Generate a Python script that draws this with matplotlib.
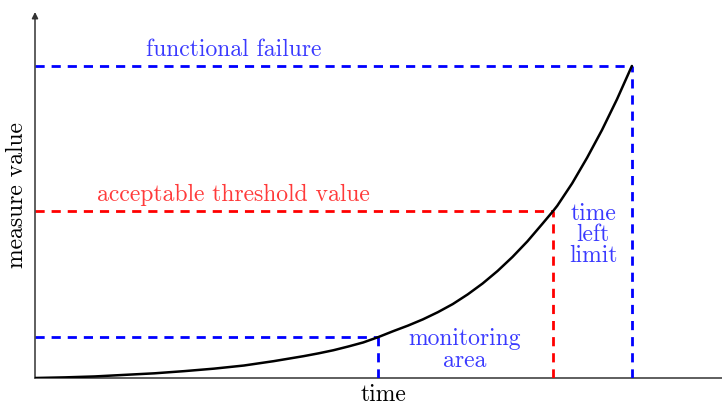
import matplotlib
matplotlib.use('Agg')
from matplotlib import pyplot as plt

# curve (time, measure value), failure point = (1, 1)
time = [0.0, 0.05, 0.10, 0.15, 0.20, 0.25, 0.30, 0.35, 0.40, 0.45, 0.475, 0.50,
        0.525, 0.55, 0.575, 0.60, 0.625, 0.65, 0.675, 0.70, 0.725, 0.75, 0.775,
        0.80, 0.825, 0.85, 0.868, 0.875, 0.90, 0.925, 0.95, 0.975, 1.0]
measure = [0.0, 0.002, 0.005, 0.010, 0.015, 0.022, 0.030, 0.040, 0.054, 0.070, 0.079, 0.089,
           0.101, 0.114, 0.131, 0.150, 0.168, 0.188, 0.211, 0.237, 0.268, 0.303, 0.343,
           0.388, 0.438, 0.494, 0.535, 0.552, 0.624, 0.706, 0.795, 0.893, 1.0]

# key levels
failure = (1.0, 1.0)
threshold = (0.868, 0.535)
monitoring = (0.575, 0.131)

blue = '#0000ff'
red = '#ff0000'
txt_blue = '#3a3aff'
txt_red = '#ff3a3a'

plt.rcParams['font.family'] = ['cmr10', 'DejaVu Serif']
plt.rcParams['axes.unicode_minus'] = False

fig = plt.figure(figsize=(7.22, 4.05), dpi=100)
ax = fig.add_axes([35 / 722, 27 / 405, 687 / 722, 366 / 405])
ax.set_xlim(0, 1.151)
ax.set_ylim(0, 1.173)
for s in ax.spines.values():
    s.set_visible(False)
ax.set_xticks([])
ax.set_yticks([])

# axes lines
ax.plot([0, 1.151], [0, 0], color='#333333', lw=1.1, clip_on=False)
ax.annotate('', xy=(0, 1.173), xytext=(0, 0),
            arrowprops=dict(arrowstyle='-|>', color='#333333', lw=1.1,
                            mutation_scale=9, shrinkA=0, shrinkB=0))

dash = dict(lw=2.0, dashes=(3.3, 2.5))

ax.plot([0, failure[0]], [failure[1], failure[1]], color=blue, **dash)
ax.plot([failure[0], failure[0]], [0, failure[1]], color=blue, **dash)
ax.plot([0, threshold[0]], [threshold[1], threshold[1]], color=red, **dash)
ax.plot([threshold[0], threshold[0]], [0, threshold[1]], color=red, **dash)
ax.plot([0, monitoring[0]], [monitoring[1], monitoring[1]], color=blue, **dash)
ax.plot([monitoring[0], monitoring[0]], [0, monitoring[1]], color=blue, **dash)

ax.plot(time, measure, color='black', lw=1.8, solid_capstyle='round',
        solid_joinstyle='round', zorder=5)

fs = 17
ax.text(0.333, 1.05, 'functional failure', color=txt_blue, fontsize=fs,
        ha='center', va='center')
ax.text(0.333, 0.587, 'acceptable threshold value', color=txt_red, fontsize=fs,
        ha='center', va='center')
ax.text(0.72, 0.09, 'monitoring\narea', color=txt_blue, fontsize=fs,
        ha='center', va='center', linespacing=1.0)
ax.text(0.935, 0.458, 'time\nleft\nlimit', color=txt_blue, fontsize=fs,
        ha='center', va='center', linespacing=0.95)
ax.text(0.583, -0.054, 'time', color='black', fontsize=fs,
        ha='center', va='center', clip_on=False)
ax.text(-0.030, 0.587, 'measure value', color='black', fontsize=fs,
        ha='center', va='center', rotation=90, clip_on=False)

fig.savefig('out.png', dpi=100)
